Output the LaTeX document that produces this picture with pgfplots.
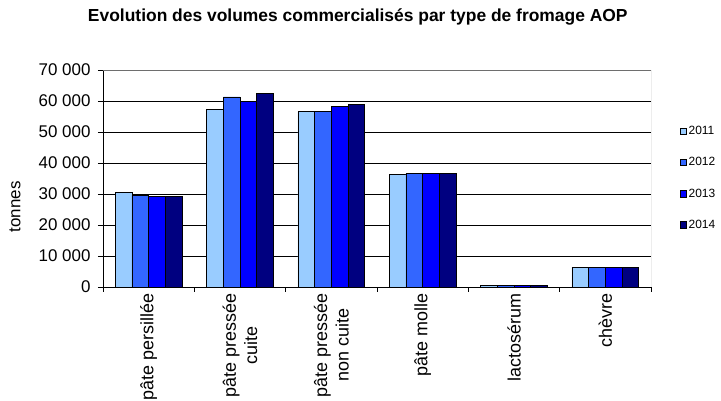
\documentclass[border=0pt]{standalone}
\usepackage{pgfplots}
\pgfplotsset{compat=1.18}
\usepackage{pgfplotstable}
\usepackage{fontspec}
\setmainfont{Liberation Sans}

\definecolor{y2011}{RGB}{153,204,255}
\definecolor{y2012}{RGB}{51,102,255}
\definecolor{y2013}{RGB}{0,0,255}
\definecolor{y2014}{RGB}{0,0,128}
\definecolor{framegray}{RGB}{110,110,110}

% Volumes (tonnes) per cheese type, one column per year
\pgfplotstableread{
cat  a2011  a2012  a2013  a2014
0    30400  29600  29150  29150
1    57400  61300  60000  62300
2    56500  56500  58350  58800
3    36250  36650  36650  36650
4    450    450    450    450
5    6400   6400   6400   6400
}\aopdata

\begin{document}
\begin{tikzpicture}
\useasboundingbox (0,0) rectangle (721bp,401bp);
\clip (0,0) rectangle (721bp,401bp);
\begin{axis}[
  at={(103bp,114bp)}, anchor=south west,
  scale only axis, width=548bp, height=217bp,
  font=\fontsize{17}{20}\selectfont,
  ybar=0pt, bar width=16.7bp,
  xmin=-0.5, xmax=5.5,
  ymin=0, ymax=70000,
  scaled y ticks=false,
  axis x line*=bottom, axis y line*=left,
  axis line style={black, line width=0.9bp},
  ytick={0,10000,...,70000},
  yticklabels={0,10 000,20 000,30 000,40 000,50 000,60 000,70 000},
  ytick style={black, line width=0.9bp},
  tick align=outside,
  major tick length=5bp,
  ymajorgrids,
  grid style={black, line width=0.9bp},
  xtick={-0.5,0.5,...,5.5},
  xticklabels={},
  x tick style={black, line width=0.9bp},
  extra x ticks={0,1,2,3,4,5},
  extra x tick labels={p\^ate persillée,p\^ate pressée\\cuite,p\^ate pressée\\non cuite,p\^ate molle,lactosérum,chèvre},
  extra x tick style={major tick length=0pt, grid=none},
  xticklabel shift=3bp,
  xticklabel style={anchor=east, rotate=90, align=center,
    font=\fontsize{18}{21.5}\selectfont},
  yticklabel style={xshift=-4bp},
  ylabel={tonnes},
  ylabel style={at={(axis description cs:-0.1606,0.369)}, anchor=center},
  title={\bfseries Evolution des volumes commercialisés par type de fromage AOP},
  title style={at={(axis description cs:0.465,1.216)}, anchor=center,
    font=\fontsize{17.5}{20}\selectfont},
  legend style={at={(axis description cs:1.052,0.75)}, anchor=north west,
    draw=none, fill=none, font=\fontsize{12}{14}\selectfont,
    row sep=17.3bp, inner sep=0pt,
    /tikz/every even column/.append style={column sep=1bp}},
  legend cell align=left,
  legend image code/.code={\draw[#1, line width=0.6bp] (0bp,-3.2bp) rectangle (6.4bp,3.2bp);},
  every axis plot/.append style={draw=black, line width=0.8bp},
]
\addplot[fill=y2011] table[x=cat, y=a2011] {\aopdata};
\addplot[fill=y2012] table[x=cat, y=a2012] {\aopdata};
\addplot[fill=y2013] table[x=cat, y=a2013] {\aopdata};
\addplot[fill=y2014] table[x=cat, y=a2014] {\aopdata};
\legend{2011,2012,2013,2014}
\draw[framegray, line width=0.9bp] (rel axis cs:0,1) -- (rel axis cs:1,1) -- (rel axis cs:1,0);
\end{axis}
\end{tikzpicture}
\end{document}
